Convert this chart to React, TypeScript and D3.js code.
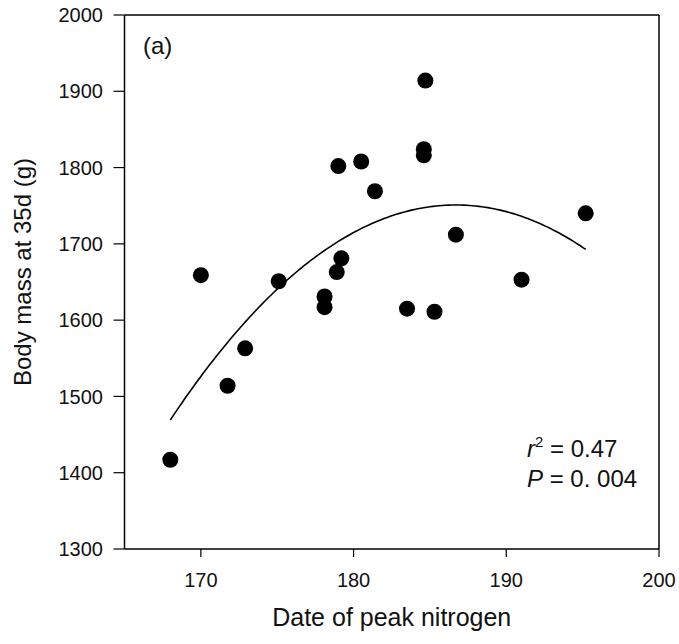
import React from "react";
import * as d3 from "d3";

// Date of peak nitrogen (day of year) and body mass at 35 days (g)
const peakDate = [
  168.0, 170.0, 171.75, 172.9, 175.1, 178.1, 178.1, 178.9, 179.2, 179.0,
  180.5, 181.4, 184.7, 184.6, 184.6, 183.5, 185.3, 186.7, 191.0, 195.2,
];
const bodyMass = [
  1417, 1659, 1514, 1563, 1651, 1631, 1617, 1663, 1681, 1802,
  1808, 1769, 1914, 1824, 1816, 1615, 1611, 1712, 1653, 1740,
];

const xTicks = [170, 180, 190, 200];
const yTicks = [1300, 1400, 1500, 1600, 1700, 1800, 1900, 2000];

// Quadratic fit: mass = peakMass + curvature * (date - peakDay)^2
const fitPeakDay = 186.7;
const fitPeakMass = 1751;
const fitCurvature = -0.806;
const fitRange = [168.0, 195.2];

const W = 679;
const H = 644;
const left = 124.5;
const right = 659;
const top = 15;
const bottom = 549;

const FONT = "'Liberation Sans', Arial, Helvetica, sans-serif";

export default function App() {
  const x = d3.scaleLinear().domain([165, 200]).range([left, right]);
  const y = d3.scaleLinear().domain([1300, 2000]).range([bottom, top]);

  const fitX = d3.range(fitRange[0], fitRange[1] + 0.001, 0.2);
  const fitLine = d3
    .line<number>()
    .x((d) => x(d))
    .y((d) => y(fitPeakMass + fitCurvature * (d - fitPeakDay) ** 2));

  return (
    <svg
      width={W}
      height={H}
      style={{ position: "fixed", left: 0, top: 0, background: "#fff" }}
      fontFamily={FONT}
    >
      <rect width={W} height={H} fill="#fff" />

      {/* frame */}
      <g stroke="#000" strokeWidth={1.5} fill="none">
        <line x1={left} x2={right} y1={bottom} y2={bottom} />
        <line x1={left} x2={left} y1={top} y2={bottom} />
        <line x1={left} x2={right} y1={top} y2={top} />
        <line x1={right} x2={right} y1={top} y2={bottom} />
      </g>

      {/* y axis */}
      {yTicks.map((t) => (
        <g key={"y" + t}>
          <line x1={left - 11} x2={left} y1={y(t)} y2={y(t)} stroke="#000" strokeWidth={1.2} />
          <text x={103} y={y(t)} dy="0.36em" textAnchor="end" fontSize={20} fill="#111">
            {t}
          </text>
        </g>
      ))}

      {/* x axis */}
      {xTicks.map((t) => (
        <g key={"x" + t}>
          <line x1={x(t)} x2={x(t)} y1={bottom} y2={bottom + 8} stroke="#000" strokeWidth={1.2} />
          <text x={x(t)} y={587} textAnchor="middle" fontSize={20} fill="#111">
            {t}
          </text>
        </g>
      ))}

      <text x={(left + right) / 2} y={626} textAnchor="middle" fontSize={25} fill="#111">
        Date of peak nitrogen
      </text>
      <text
        transform={`translate(31, 272) rotate(-90)`}
        textAnchor="middle"
        fontSize={24}
        fill="#111"
      >
        Body mass at 35d (g)
      </text>

      <text x={143} y={54} fontSize={24} fill="#111">
        (a)
      </text>

      {/* fitted curve */}
      <path d={fitLine(fitX) ?? ""} fill="none" stroke="#000" strokeWidth={1.6} />

      {/* observations */}
      {peakDate.map((d, i) => (
        <circle key={i} cx={x(d)} cy={y(bodyMass[i])} r={8} fill="#000" />
      ))}

      {/* statistics */}
      <text x={527} y={457} fontSize={24} fill="#111">
        <tspan fontStyle="italic">r</tspan>
        <tspan fontSize={15} dy={-10}>2</tspan>
        <tspan dy={10}> = 0.47</tspan>
      </text>
      <text x={527} y={487} fontSize={24} fill="#111">
        <tspan fontStyle="italic">P</tspan>
        <tspan> = 0. 004</tspan>
      </text>
    </svg>
  );
}
